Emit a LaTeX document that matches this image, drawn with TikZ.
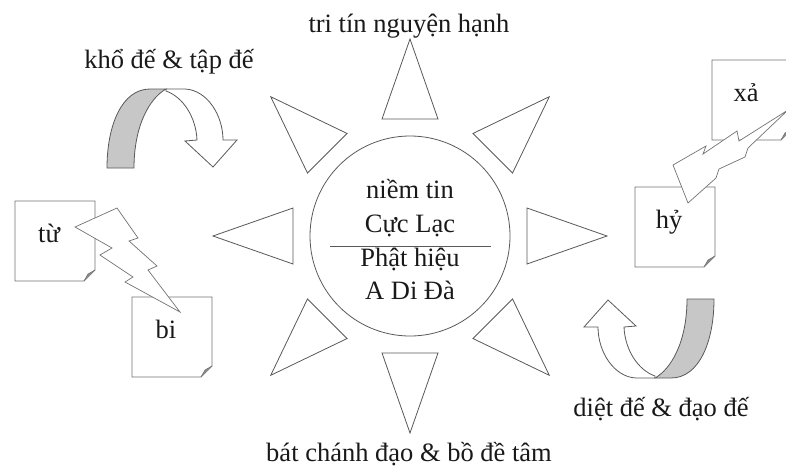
\documentclass[tikz,border=0pt]{standalone}
\usepackage{fontspec}
\setmainfont{Liberation Serif}
\usepackage{tikz}

\begin{document}
\begin{tikzpicture}[
  x=1pt, y=-1pt,
  txt/.style ={anchor=base,inner sep=0pt,text=black!90,font=\fontsize{26.5}{30}\selectfont},
  core/.style={circle,draw=black!65,line width=0.8pt,minimum size=200pt,inner sep=0pt},
  ray/.style ={draw=black!65,line width=0.8pt,fill=white,line join=miter},
  note/.style={draw=black!55,line width=0.8pt,fill=white},
  fold/.style={draw=black!55,line width=0.6pt,fill=black!45},
  bolt/.style={draw=black!55,line width=0.7pt,fill=white,line join=miter},
  band/.style={draw=black!65,line width=0.8pt,fill=black!22},
  turn/.style={draw=black!65,line width=0.8pt,fill=white},
]
\useasboundingbox (0,0) rectangle (786,469);
\clip (0,0) rectangle (786,469);

%% --- centre ---------------------------------------------------------------
\node[core] (core) at (410,236) {};
\node[txt] (nt) at (410,198) {niềm tin};
\node[txt] (cl) at (410,232) {Cực Lạc};
\node[txt] (ph) at (410,266) {Phật hiệu};
\node[txt] (ad) at (410,299) {A Di Đà};
\coordinate (sepl) at (330,246);
\coordinate (sepr) at (491,246);
\draw[black!65,line width=0.6pt] (sepl) -- (sepr);

%% --- rays -------------------------------------------------------------------
\foreach \a in {0,45,...,315}
  \draw[ray,shift={(410,236)},rotate=\a] (117,28) -- (197,0) -- (117,-28) -- cycle;

%% --- labels -----------------------------------------------------------------
\node[txt] (tri)  at (409,32)  {tri tín nguyện hạnh};
\node[txt] (kho)  at (169,68)  {khổ đế \& tập đế};
\node[txt] (bat)  at (409,461) {bát chánh đạo \& bồ đề tâm};
\node[txt] (diet) at (661,416) {diệt đế \& đạo đế};

%% --- turning arrows ---------------------------------------------------------
\foreach \r in {0,180}{
  \begin{scope}[rotate around={\r:(410.5,233.5)}]
    \draw[band] (107,168) .. controls (107,125) and (122,89) .. (150,89) -- (166,89)
      .. controls (150,98) and (134,125) .. (134,168) -- cycle;
    \draw[turn] (166,89) -- (185,89) .. controls (207,90) and (223,115) .. (223,140)
      -- (237,140) -- (213,167) -- (185,141) -- (197,140)
      .. controls (196,117) and (183,97) .. (166,91) -- cycle;
  \end{scope}
}

%% --- notes ------------------------------------------------------------------
\foreach \nm/\x/\y/\t in {tu/15/201/từ, bi/132/297/bi, hy/635/187/hỷ, xa/712/60/xả}{
  \draw[note] (\x,\y) -- ({\x+80},\y) -- ({\x+80},{\y+69}) -- ({\x+69},{\y+80})
    -- (\x,{\y+80}) -- cycle;
  \draw[fold] ({\x+80},{\y+69}) -- ({\x+73},{\y+73}) -- ({\x+69},{\y+80});
  \node[txt] (\nm) at ({\x+34},{\y+41}) {\t};
}

%% --- bolts ------------------------------------------------------------------
\draw[bolt] (75,227) -- (117,208) -- (138,238) -- (129,241) -- (157,266) -- (148,270)
  -- (180,312) -- (125,282) -- (133,277) -- (100,255) -- (112,248) -- cycle;
\draw[bolt] (673,165) -- (706,146) -- (703,154) -- (737,131) -- (739,141) -- (788,110)
  -- (748,148) -- (745,157) -- (719,169) -- (716,178) -- (688,203) -- cycle;

\end{tikzpicture}
\end{document}
